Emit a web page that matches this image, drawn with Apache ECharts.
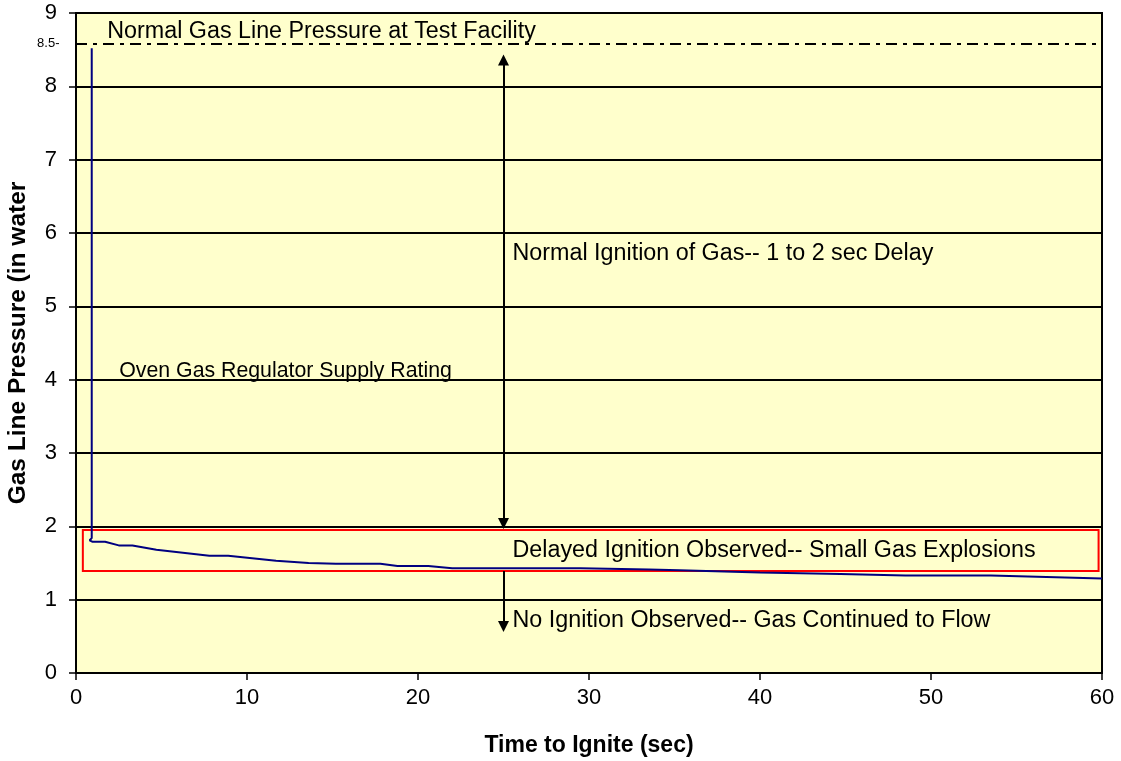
<!DOCTYPE html>
<html>
<head>
    <meta charset="utf-8">
    <title>Gas Line Pressure</title>
    <script src="https://cdn.jsdelivr.net/npm/echarts@6.0.0/dist/echarts.min.js"></script>
    <style>
        html, body { margin: 0; padding: 0; background: #fff; }
        #chart { width: 1121px; height: 761px; }
    </style>
</head>
<body>
    <div id="chart"></div>
    <script>
        // pressure vs time
        var timeSec = [0.92, 0.92, 0.8, 0.95, 1.7, 2.5, 3.3, 4.7, 7.8, 8.9, 11.7, 13.6, 15.2, 17.8, 18.8, 20.6, 22.0, 24.0, 29.5, 33.5, 35.3, 40.0, 44.7, 48.5, 53.5, 60];
        var pressure = [8.52, 1.84, 1.81, 1.79, 1.79, 1.74, 1.74, 1.68, 1.60, 1.60, 1.53, 1.50, 1.49, 1.49, 1.46, 1.46, 1.43, 1.43, 1.43, 1.41, 1.40, 1.37, 1.35, 1.33, 1.33, 1.29];

        var facilityPressure = 8.58;      // dash-dot line ("8.5")
        var delayedBand = [[0.4, 1.95], [59.8, 1.39]];
        var arrowX = 25;
        var normalArrow = [2.04, 8.36];
        var noIgnArrow = [1.39, 0.635];

        // annotation texts: [x, y, text, font size]
        var notes = [
            [1.8, 8.75, 'Normal Gas Line Pressure at Test Facility', 23.3],
            [25.5, 5.72, 'Normal Ignition of Gas-- 1 to 2 sec Delay', 23.3],
            [2.5, 4.12, 'Oven Gas Regulator Supply Rating', 21.3],
            [25.5, 1.67, 'Delayed Ignition Observed-- Small Gas Explosions', 23.3],
            [25.5, 0.71, 'No Ignition Observed-- Gas Continued to Flow', 23.3]
        ];

        var chart = echarts.init(document.getElementById('chart'));
        var txtFont = 'Liberation Sans, Arial, sans-serif';

        var lineData = timeSec.map(function (t, i) { return [t, pressure[i]]; });

        var noteData = notes.map(function (n) {
            return {
                coord: [n[0], n[1]],
                label: { formatter: n[2], fontSize: n[3] }
            };
        });
        noteData.push({
            coord: [0, facilityPressure],
            label: { formatter: '8.5-', position: 'left', distance: 16, fontSize: 13 }
        });

        var option = {
            animation: false,
            grid: {
                left: 76, right: 19, top: 13, bottom: 88,
                outerBoundsMode: 'none',
                show: true,
                backgroundColor: '#FFFFCC',
                borderColor: '#000',
                borderWidth: 2
            },
            xAxis: {
                type: 'value',
                min: 0, max: 60, interval: 10,
                name: 'Time to Ignite (sec)',
                nameLocation: 'middle',
                nameGap: 61,
                nameTextStyle: { fontFamily: txtFont, fontWeight: 'bold', fontSize: 23, color: '#000' },
                axisLine: { lineStyle: { color: '#000', width: 2 } },
                axisTick: { show: true, length: 7, lineStyle: { color: '#000', width: 1.5 } },
                axisLabel: { fontFamily: txtFont, fontSize: 22, color: '#000', margin: 14 },
                splitLine: { show: false }
            },
            yAxis: {
                type: 'value',
                min: 0, max: 9, interval: 1,
                name: 'Gas Line Pressure (in water',
                nameLocation: 'middle',
                nameGap: 45,
                nameTextStyle: { fontFamily: txtFont, fontWeight: 'bold', fontSize: 24.5, color: '#000' },
                axisLine: { show: true, lineStyle: { color: '#000', width: 2 } },
                axisTick: { show: true, length: 7, lineStyle: { color: '#000', width: 1.5 } },
                axisLabel: { fontFamily: txtFont, fontSize: 22, color: '#000', margin: 19 },
                splitLine: { show: true, lineStyle: { color: '#000', width: 2 } }
            },
            series: [
                {
                    type: 'line',
                    data: lineData,
                    showSymbol: false,
                    symbol: 'none',
                    lineStyle: { color: '#000080', width: 2 },
                    z: 5,
                    markArea: {
                        silent: true,
                        itemStyle: { color: 'rgba(0,0,0,0)', borderColor: '#FF0000', borderWidth: 2 },
                        data: [[{ coord: delayedBand[0] }, { coord: delayedBand[1] }]]
                    },
                    markLine: {
                        silent: true,
                        symbolSize: 11,
                        label: { show: false },
                        data: [
                            [
                                { coord: [0, facilityPressure], symbol: 'none', lineStyle: { color: '#000', width: 2, type: [11, 6, 4, 6] } },
                                { coord: [60, facilityPressure], symbol: 'none' }
                            ],
                            [
                                { coord: [arrowX, normalArrow[0]], symbol: 'triangle', symbolRotate: 180, lineStyle: { color: '#000', width: 2, type: 'solid' }, itemStyle: { color: '#000' } },
                                { coord: [arrowX, normalArrow[1]], symbol: 'triangle', itemStyle: { color: '#000' } }
                            ],
                            [
                                { coord: [arrowX, noIgnArrow[0]], symbol: 'none', lineStyle: { color: '#000', width: 2, type: 'solid' }, itemStyle: { color: '#000' } },
                                { coord: [arrowX, noIgnArrow[1]], symbol: 'triangle', itemStyle: { color: '#000' } }
                            ]
                        ]
                    },
                    markPoint: {
                        silent: true,
                        symbol: 'circle',
                        symbolSize: 1,
                        itemStyle: { color: 'rgba(0,0,0,0)' },
                        label: {
                            show: true,
                            position: 'right',
                            distance: 0,
                            fontFamily: txtFont,
                            color: '#000'
                        },
                        data: noteData
                    }
                }
            ]
        };
        chart.setOption(option);
    </script>
</body>
</html>
